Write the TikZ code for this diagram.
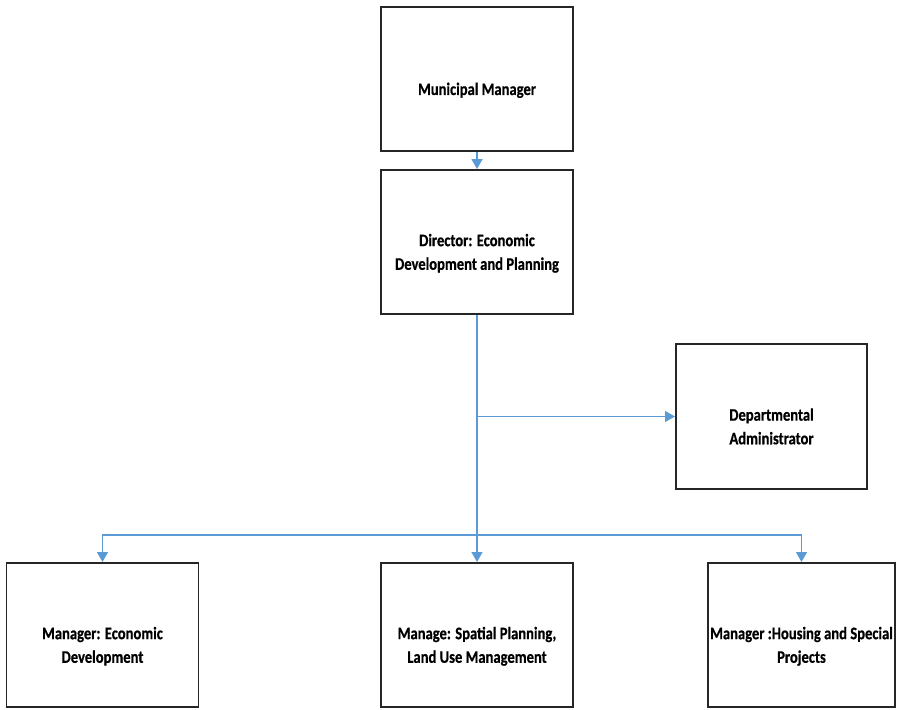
\documentclass[tikz,border=0pt]{standalone}
\usepackage{fontspec}
\setmainfont{Carlito}[FakeStretch=0.83, FakeBold=0.6]
\usetikzlibrary{arrows.meta}
\definecolor{linkblue}{HTML}{5B9BD5}
\newcommand{\boxtext}[1]{\raisebox{-8pt}[\height][\depth]{\begin{tabular}{@{}c@{}}#1\end{tabular}}}
\tikzset{
  box/.style={draw=black!85, line width=1.3pt, minimum width=4.8cm, minimum height=3.6cm,
    inner xsep=0pt, font=\fontsize{12.5}{16.8}\selectfont\bfseries},
  link/.style={draw=linkblue, line width=1.4pt, -{Triangle[length=7pt,width=7.5pt]}}
}
\begin{document}
\begin{tikzpicture}[x=0.025cm, y=-0.025cm]
      \useasboundingbox (0,0) rectangle (899,709);
      \node[box] (mm) at (477,79) {\boxtext{Municipal Manager}};
      \node[box] (dir) at (477,242) {\boxtext{Director: Economic\\Development and Planning}};
      \node[box, minimum height=3.625cm, minimum width=4.775cm] (adm) at (771.5,416.5) {\boxtext{Departmental\\Administrator}};
      \node[box] (med) at (102.5,635) {\boxtext{Manager: Economic\\Development}};
      \node[box] (msp) at (477,635) {\boxtext{Manage: Spatial Planning,\\Land Use Management}};
      \node[box, minimum width=4.675cm] (mhs) at (801.5,635) {\boxtext{Manager :Housing and Special\\Projects}};
      \coordinate (split) at (477,535);
      \begin{scope}
        \draw[link] (mm) -- (dir);
        \draw[link] (dir) -- (msp);
        \draw[link] (dir.south |- adm) -- (adm);
        \draw[link] (split) -| (med);
        \draw[link] (split) -| (mhs);
      \end{scope}
    \end{tikzpicture}
\end{document}
